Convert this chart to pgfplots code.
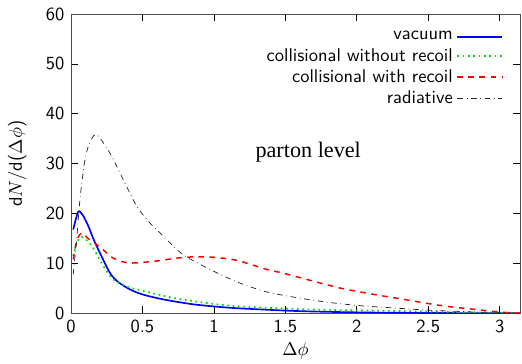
\documentclass[border=0pt]{standalone}
\usepackage{fontspec}
\usepackage{pgfplots}
\pgfplotsset{compat=1.18}
\newfontfamily\timesfont{Liberation Serif}

\begin{document}
\begin{tikzpicture}
\begin{axis}[
  scale only axis,
  width=243pt, height=162pt,
  xmin=0, xmax=3.14159, ymin=0, ymax=60,
  xtick={0,0.5,1,1.5,2,2.5,3},
  ytick={0,10,20,30,40,50,60},
  tick align=inside,
  tick style={black, thin},
  major tick length=4pt,
  axis line style={black!70, thin},
  /pgf/number format/assume math mode=true,
  ticklabel style={font=\sffamily},
  xlabel={$\Delta\phi$},
  ylabel={\textsf{d}$N$\textsf{/d(}$\Delta\phi$\textsf{)}},
  every axis x label/.style={at={(rel axis cs:0.5,0)}, yshift=-20.5pt, font=\sffamily},
  every axis y label/.style={at={(rel axis cs:0,0.5)}, xshift=-29pt, rotate=90, font=\sffamily},
  legend plot pos=right,
  legend cell align=right,
  legend style={draw=none, fill=none, font=\sffamily,
    at={(0.975,0.968)}, anchor=north east, row sep=-1pt},
  legend image code/.code={\draw[sharp plot,#1] plot coordinates {(0cm,0cm) (0.85cm,0cm)};},
]
\coordinate (sw) at (rel axis cs:0,0);
\coordinate (ne) at (rel axis cs:1,1);
% vacuum
\addplot[color=blue, line width=0.9pt, smooth] coordinates {
  (0.016,16.8) (0.05,20.3) (0.08,19.8) (0.12,17.6) (0.156,15.0) (0.203,12.1)
  (0.273,8.1) (0.33,6.3) (0.413,4.8) (0.5,3.8) (0.646,2.8) (0.86,1.8)
  (1.1,1.15) (1.32,0.8) (1.6,0.45) (2.0,0.2) (2.5,0.08) (3.14159,0.02)
};
\addlegendentry{vacuum}
% collisional without recoil
\addplot[color=green!85!black, line width=0.9pt, dotted, smooth] coordinates {
  (0.016,11.5) (0.04,14.2) (0.075,15.3) (0.12,14.4) (0.156,13.1) (0.226,9.5)
  (0.296,6.8) (0.4,5.3) (0.506,4.5) (0.716,3.1) (0.97,2.0) (1.18,1.4)
  (1.5,0.95) (1.8,0.7) (2.23,0.5) (2.6,0.3) (3.0,0.15) (3.14159,0.1)
};
\addlegendentry{collisional without recoil}
% collisional with recoil
\addplot[color=red, line width=0.8pt, dashed, smooth] coordinates {
  (0.016,10.8) (0.04,14.5) (0.075,16.1) (0.12,15.0) (0.203,13.3) (0.3,11.0)
  (0.413,10.1) (0.6,10.5) (0.72,11.0) (0.833,11.3) (0.97,11.3) (1.08,11.0)
  (1.18,10.5) (1.37,8.8) (1.48,8.1) (1.65,6.8) (1.88,5.1)
  (2.12,3.8) (2.35,2.7) (2.58,1.6) (2.82,0.8) (3.05,0.15) (3.14159,0.05)
};
\addlegendentry{collisional with recoil}
% radiative
\addplot[color=black!85, thin, dash dot, smooth] coordinates {
  (0.016,7.8) (0.04,14.8) (0.063,22.8) (0.098,30.8) (0.133,34.3) (0.18,35.8)
  (0.273,32.1) (0.366,26.8) (0.46,21.5) (0.553,18.1) (0.646,15.5) (0.74,12.8)
  (0.81,11.3) (0.926,9.5) (1.067,7.5) (1.207,5.8) (1.37,4.3) (1.53,3.4)
  (1.75,2.4) (2.0,1.6) (2.25,1.1) (2.5,0.65) (2.75,0.35) (3.0,0.12) (3.14159,0.05)
};
\addlegendentry{radiative}
\node[font=\timesfont\large] at (axis cs:1.66,32.4) {parton level};
\end{axis}
\pgfresetboundingbox
\useasboundingbox ([xshift=-38.4pt,yshift=-27pt]sw) rectangle ([xshift=1.1pt,yshift=7.6pt]ne);
\end{tikzpicture}
\end{document}
